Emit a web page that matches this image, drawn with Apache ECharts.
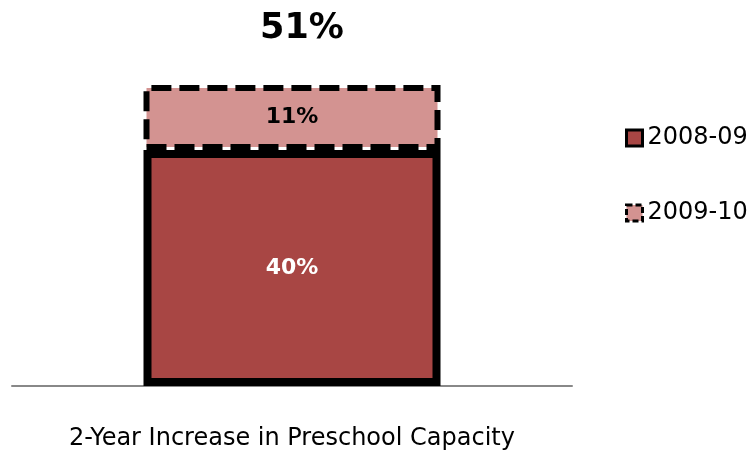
<!DOCTYPE html>
<html>
<head>
<meta charset="utf-8">
<script src="https://cdn.jsdelivr.net/npm/echarts@6/dist/echarts.min.js"></script>
<style>
  html, body { margin: 0; padding: 0; background: #fff; }
  #main { width: 753px; height: 451px; }
</style>
</head>
<body>
<div id="main"></div>
<script>
var categories = ['2-Year Increase in Preschool Capacity'];
var seriesNames = ['2008-09', '2009-10'];
var values0809 = [40];
var values0910 = [11];
var totals = values0809.map(function (v, i) { return v + values0910[i]; });

var chart = echarts.init(document.getElementById('main'));

var font = 'DejaVu Sans, sans-serif';

var option = {
  animation: false,
  textStyle: { fontFamily: font },
  grid: { left: 12, right: 181, top: 32, bottom: 65 },
  legend: {
    orient: 'vertical',
    left: 620,
    top: 121,
    icon: 'rect',
    itemWidth: 16,
    itemHeight: 16,
    itemGap: 51,
    data: [
      { name: seriesNames[0], itemStyle: { borderWidth: 3, borderColor: '#000' } },
      { name: seriesNames[1], itemStyle: { borderWidth: 3, borderColor: '#000', borderType: [6, 3] } }
    ],
    textStyle: { fontSize: 24, color: '#000', fontFamily: font }
  },
  xAxis: {
    type: 'category',
    data: categories,
    axisLine: { lineStyle: { color: '#888', width: 2 } },
    axisTick: { show: false },
    axisLabel: { margin: 41, fontSize: 24, color: '#000', fontFamily: font }
  },
  yAxis: {
    type: 'value',
    min: 0,
    max: 60,
    show: false
  },
  series: [
    {
      name: seriesNames[0],
      type: 'bar',
      stack: 'total',
      barWidth: 297,
      data: values0809,
      itemStyle: { color: '#A84644', borderColor: '#000', borderWidth: 8 },
      label: {
        show: true,
        position: 'inside',
        formatter: '{c}%',
        color: '#fff',
        fontSize: 22,
        fontWeight: 'bold',
        fontFamily: font
      }
    },
    {
      name: seriesNames[1],
      type: 'bar',
      stack: 'total',
      barWidth: 297,
      data: values0910,
      itemStyle: {
        color: '#D39391',
        borderColor: '#000',
        borderWidth: 6,
        borderType: [20, 8]
      },
      label: {
        show: true,
        position: 'inside',
        formatter: '{c}%',
        color: '#000',
        fontSize: 22,
        fontWeight: 'bold',
        fontFamily: font
      }
    },
    {
      name: 'total',
      type: 'bar',
      stack: 'total',
      barWidth: 297,
      data: totals.map(function () { return 0; }),
      itemStyle: { color: 'transparent' },
      label: {
        show: true,
        position: 'top',
        distance: 39,
        offset: [10, 0],
        formatter: function (p) { return totals[p.dataIndex] + '%'; },
        color: '#000',
        fontSize: 35,
        fontWeight: 'bold',
        fontFamily: font
      }
    }
  ]
};

chart.setOption(option);
</script>
</body>
</html>
